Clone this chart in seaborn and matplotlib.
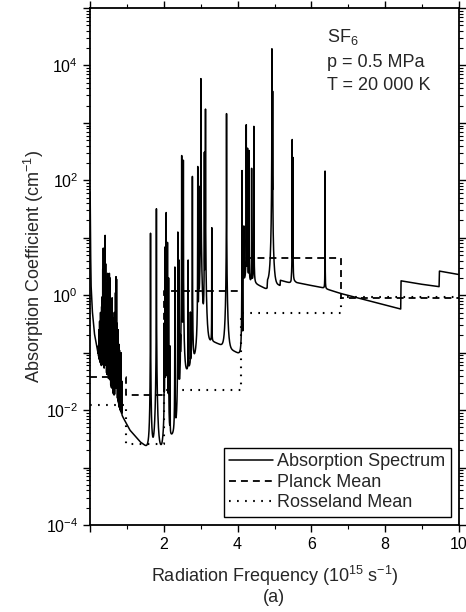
import numpy as np
import pandas as pd
import matplotlib
matplotlib.use("Agg")
import matplotlib.pyplot as plt
import seaborn as sns
from matplotlib.ticker import LogLocator, FuncFormatter, MultipleLocator, NullFormatter

# ---- continuum of the absorption spectrum (frequency in 1e15 s^-1, k in cm^-1)
cont_f = [0.004, 0.012, 0.027, 0.06, 0.117, 0.25, 0.43, 0.61, 0.79, 1.08, 1.36,
          1.54, 1.62, 1.95, 2.02, 2.20, 2.50, 2.56, 2.80, 3.00, 3.30, 3.75, 4.140,
          4.150, 4.50, 4.800, 4.810, 5.150, 5.160, 5.450, 5.460, 5.60, 6.30, 6.80,
          8.420, 8.430, 8.90, 9.460, 9.470, 10.0]
cont_k = [63, 11.2, 1.62, 0.56, 0.22, 0.074, 0.025, 0.0148, 0.010, 0.0045, 0.0028,
          0.0023, 0.0022, 0.0022, 0.0025, 0.0035, 0.0056, 0.040, 0.071, 0.14, 0.16,
          0.12, 0.089, 1.9, 1.58, 1.26, 1.74, 1.48, 1.82, 1.62, 1.86, 1.66, 1.35,
          1.07, 0.575, 1.78, 1.58, 1.41, 2.63, 2.29]

# ---- spectral lines: centre frequency and peak absorption coefficient
line_f = [0.20, 0.22, 0.24, 0.26, 0.27, 0.285, 0.30, 0.315, 0.33, 0.345, 0.36,
          0.375, 0.39, 0.41, 0.425, 0.44, 0.455, 0.47, 0.48, 0.495, 0.51, 0.525,
          0.54, 0.555, 0.57, 0.585, 0.60, 0.615, 0.63, 0.645, 0.66, 0.675, 0.69,
          0.705, 0.72, 0.735, 0.75, 0.765, 0.78, 0.80, 0.82, 0.84, 0.86,
          1.64, 1.80, 2.01, 2.03, 2.065, 2.10, 2.13, 2.17, 2.30, 2.38, 2.41, 2.45,
          2.485, 2.53, 2.66, 2.72, 2.775, 2.92, 2.95, 3.005, 3.10, 3.13, 3.30,
          3.70, 4.12, 4.17, 4.235, 4.27, 4.31, 4.38, 4.44, 4.93, 4.95, 5.48, 5.50,
          6.37]
line_k = [0.10, 0.13, 0.25, 0.35, 0.18, 0.5, 0.28, 0.63, 0.93, 2.8, 6.6,
          1.26, 0.5, 11, 3.5, 1.6, 0.8, 1.26, 2.4, 0.63, 1.1, 2.4,
          2.0, 0.45, 0.8, 0.35, 0.9, 0.5, 0.25, 0.4, 0.2, 0.5, 1.1,
          2.1, 1.9, 0.32, 0.2, 0.25, 0.14, 0.11, 0.063, 0.10, 0.032,
          12, 32, 0.32, 6.9, 27.5, 8.3, 2.0, 0.13, 3.1, 12.6, 4.1, 0.13,
          270, 224, 4.1, 0.5, 117, 174, 79, 5900, 309, 1740, 15,
          1450, 148, 16, 930, 363, 331, 162, 870, 19500, 3550, 513, 250,
          145]

# ---- Planck and Rosseland mean absorption coefficients per frequency band
planck_edges = [0.0, 0.98, 2.0, 4.13, 6.8, 10.0]
planck_k = [0.038, 0.0185, 1.2, 4.5, 0.91]
rosseland_edges = [0.0, 0.98, 2.0, 4.08, 6.8, 10.0]
rosseland_k = [0.0123, 0.0026, 0.022, 0.49, 0.93]

# ---- build the spectrum: Lorentzian lines (wings tapered off) on the continuum
half_width = 6e-4
wing_cut = 0.1
lf = np.asarray(line_f)
lk = np.asarray(line_k)
offsets = np.array([-60, -25, -10, -5, -3, -2, -1, -0.5, 0, 0.5, 1, 2, 3, 5, 10, 25, 60])
grid = np.concatenate([np.linspace(cont_f[0], 10.0, 20000),
                       (lf[:, None] + half_width * offsets[None, :]).ravel()])
grid = np.unique(grid[(grid >= cont_f[0]) & (grid <= 10.0)])
log_cont = np.log10(cont_k)
continuum = 10 ** np.interp(grid, cont_f, log_cont)
base_at_line = 10 ** np.interp(lf, cont_f, log_cont)
amp = np.clip(lk - base_at_line, 0, None)
d = grid[None, :] - lf[:, None]
profile = half_width ** 2 / (d ** 2 + half_width ** 2) * np.exp(-(d / wing_cut) ** 2)
spectrum = continuum + (amp[:, None] * profile).sum(axis=0)
spec_df = pd.DataFrame({"f": grid, "k": spectrum})

planck_df = pd.DataFrame({"f": planck_edges, "k": planck_k + [planck_k[-1]]})
ross_df = pd.DataFrame({"f": rosseland_edges, "k": rosseland_k + [rosseland_k[-1]]})

# ---- styling
sns.set_theme(style="ticks")
plt.rcParams["font.family"] = ["Liberation Sans", "DejaVu Sans"]
plt.rcParams["mathtext.fontset"] = "custom"
plt.rcParams["mathtext.rm"] = "Liberation Sans"
plt.rcParams["mathtext.it"] = "Liberation Sans:italic"
plt.rcParams["lines.scale_dashes"] = False

fig = plt.figure(figsize=(4.66, 6.12), dpi=100)
ax = fig.add_axes([90 / 466, 1 - 525 / 612, 369 / 466, 517 / 612])

sns.lineplot(data=spec_df, x="f", y="k", estimator=None, sort=False, color="black",
             lw=1.1, label="Absorption Spectrum", ax=ax, zorder=3)
sns.lineplot(data=planck_df, x="f", y="k", estimator=None, sort=False, color="black",
             lw=1.3, dashes=False, drawstyle="steps-post", linestyle=(0, (5.0, 3.6)),
             label="Planck Mean", ax=ax, zorder=2)
sns.lineplot(data=ross_df, x="f", y="k", estimator=None, sort=False, color="black",
             lw=1.5, dashes=False, drawstyle="steps-post", linestyle=(0, (1.2, 4.6)),
             label="Rosseland Mean", ax=ax, zorder=2)

ax.set_yscale("log")
ax.set_xlim(0, 10)
ax.set_ylim(1e-4, 1e5)

ax.xaxis.set_major_locator(MultipleLocator(2))
ax.xaxis.set_minor_locator(MultipleLocator(1))
ax.xaxis.set_major_formatter(FuncFormatter(lambda v, p: "" if v == 0 else f"{v:g}"))
ax.yaxis.set_major_locator(LogLocator(base=10, numticks=20))
ax.yaxis.set_minor_locator(LogLocator(base=10, subs=np.arange(2, 10), numticks=20))
ax.yaxis.set_minor_formatter(NullFormatter())


def exp_label(v, pos):
    e = int(round(np.log10(v)))
    return rf"$\mathregular{{10^{{{e}}}}}$" if e % 2 == 0 else ""


ax.yaxis.set_major_formatter(FuncFormatter(exp_label))

ax.tick_params(which="both", direction="out", top=True, right=True,
               labeltop=False, labelright=False, colors="black", labelsize=11.5)
ax.tick_params(which="major", length=5, width=1.0)
ax.tick_params(which="minor", length=3, width=0.8)
for s in ax.spines.values():
    s.set_linewidth(1.3)
    s.set_color("black")

ax.set_xlabel(r"Radiation Frequency (10$^{15}$ s$^{-1}$)", fontsize=13, labelpad=9)
ax.set_ylabel(r"Absorption Coefficient (cm$^{-1}$)", fontsize=13, labelpad=0)
fig.text(274 / 466, 1 - 597 / 612, "(a)", ha="center", va="center", fontsize=13)

ax.text(0.642, 0.934, r"SF$_6$", transform=ax.transAxes, fontsize=13, va="baseline")
ax.text(0.642, 0.886, "p = 0.5 MPa", transform=ax.transAxes, fontsize=13, va="baseline")
ax.text(0.642, 0.841, "T = 20 000 K", transform=ax.transAxes, fontsize=13, va="baseline")

leg = ax.legend(loc="lower right", frameon=True, fancybox=False, edgecolor="black",
                framealpha=1, fontsize=13, handlelength=2.4, handletextpad=0.25,
                labelspacing=0.2, borderpad=0.3, borderaxespad=0.45)
leg.get_frame().set_linewidth(1.0)

fig.savefig("out.png", dpi=100)
